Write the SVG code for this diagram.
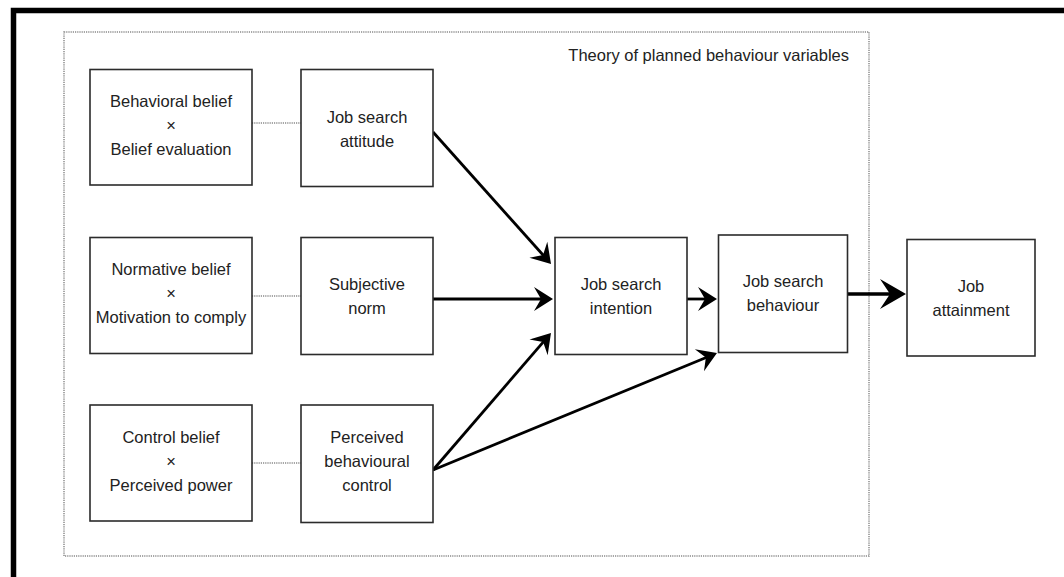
<svg xmlns="http://www.w3.org/2000/svg" width="1064" height="577" viewBox="0 0 1064 577">
<style>
.box{fill:#fff;stroke:#2b2b2b;stroke-width:1.6}
.t{font-family:"Liberation Sans",Arial,sans-serif;font-size:16.5px;fill:#222;text-anchor:middle}
.dot{fill:none;stroke:#8a8a8a;stroke-width:1.5;stroke-dasharray:1.2 1}
.arr{fill:none;stroke:#000;stroke-width:2.8}
.arrb{fill:none;stroke:#000;stroke-width:3.6}
</style>
<defs>
<marker id="ah" markerUnits="userSpaceOnUse" viewBox="-22 -14 24 28" markerWidth="24" markerHeight="28" refX="-11" refY="0" orient="auto">
<path d="M0,0 L-19,-12 L-12,0 L-19,12 Z" fill="#000"/>
</marker>
<marker id="ahb" markerUnits="userSpaceOnUse" viewBox="-28 -17 30 34" markerWidth="30" markerHeight="34" refX="-15" refY="0" orient="auto">
<path d="M0,0 L-26,-15 L-16,0 L-26,15 Z" fill="#000"/>
</marker>
</defs>
<rect width="1064" height="577" fill="#fff"/>
<rect x="13.5" y="10.5" width="1100" height="620" fill="none" stroke="#000" stroke-width="5.5"/>
<g id="container">
<rect class="dot" x="64" y="32" width="805" height="524"/>
<text class="t" x="849" y="61" style="text-anchor:end">Theory of planned behaviour variables</text>
</g>
<g id="connectors">
<line class="dot" x1="252" y1="123" x2="301" y2="123"/>
<line class="dot" x1="252" y1="296" x2="301" y2="296"/>
<line class="dot" x1="252" y1="463" x2="301" y2="463"/>
<line class="arr" x1="433" y1="132" x2="543.7" y2="255.8" marker-end="url(#ah)"/>
<line class="arr" x1="433" y1="299" x2="542" y2="299" marker-end="url(#ah)"/>
<line class="arr" x1="433" y1="470" x2="543.8" y2="341.3" marker-end="url(#ah)"/>
<line class="arr" x1="433" y1="470" x2="706.8" y2="357.2" marker-end="url(#ah)"/>
<line class="arr" x1="687" y1="299" x2="706" y2="299" marker-end="url(#ah)"/>
<line class="arrb" x1="848" y1="294" x2="891" y2="294" marker-end="url(#ahb)"/>
</g>
<g id="behavioral-belief">
<rect class="box" x="90" y="69.5" width="162" height="115.5"/>
<text class="t" x="171" y="107">Behavioral belief</text>
<text class="t" x="171" y="131">×</text>
<text class="t" x="171" y="155">Belief evaluation</text>
</g>
<g id="job-search-attitude">
<rect class="box" x="301" y="69.5" width="132" height="117"/>
<text class="t" x="367" y="122.5">Job search</text>
<text class="t" x="367" y="146.5">attitude</text>
</g>
<g id="normative-belief">
<rect class="box" x="90" y="237.5" width="162" height="116"/>
<text class="t" x="171" y="275">Normative belief</text>
<text class="t" x="171" y="299">×</text>
<text class="t" x="171" y="323">Motivation to comply</text>
</g>
<g id="subjective-norm">
<rect class="box" x="301" y="237.5" width="132" height="117"/>
<text class="t" x="367" y="290">Subjective</text>
<text class="t" x="367" y="314">norm</text>
</g>
<g id="control-belief">
<rect class="box" x="90" y="405" width="162" height="116"/>
<text class="t" x="171" y="442.5">Control belief</text>
<text class="t" x="171" y="466.5">×</text>
<text class="t" x="171" y="490.5">Perceived power</text>
</g>
<g id="perceived-behavioural-control">
<rect class="box" x="301" y="405" width="132" height="117.5"/>
<text class="t" x="367" y="443">Perceived</text>
<text class="t" x="367" y="467">behavioural</text>
<text class="t" x="367" y="491">control</text>
</g>
<g id="job-search-intention">
<rect class="box" x="555" y="237.5" width="132" height="117"/>
<text class="t" x="621" y="289.5">Job search</text>
<text class="t" x="621" y="313.5">intention</text>
</g>
<g id="job-search-behaviour">
<rect class="box" x="718.5" y="235" width="129" height="117.5"/>
<text class="t" x="783" y="287">Job search</text>
<text class="t" x="783" y="311">behaviour</text>
</g>
<g id="job-attainment">
<rect class="box" x="907" y="239.5" width="128" height="116.5"/>
<text class="t" x="971" y="292">Job</text>
<text class="t" x="971" y="316">attainment</text>
</g>
</svg>
